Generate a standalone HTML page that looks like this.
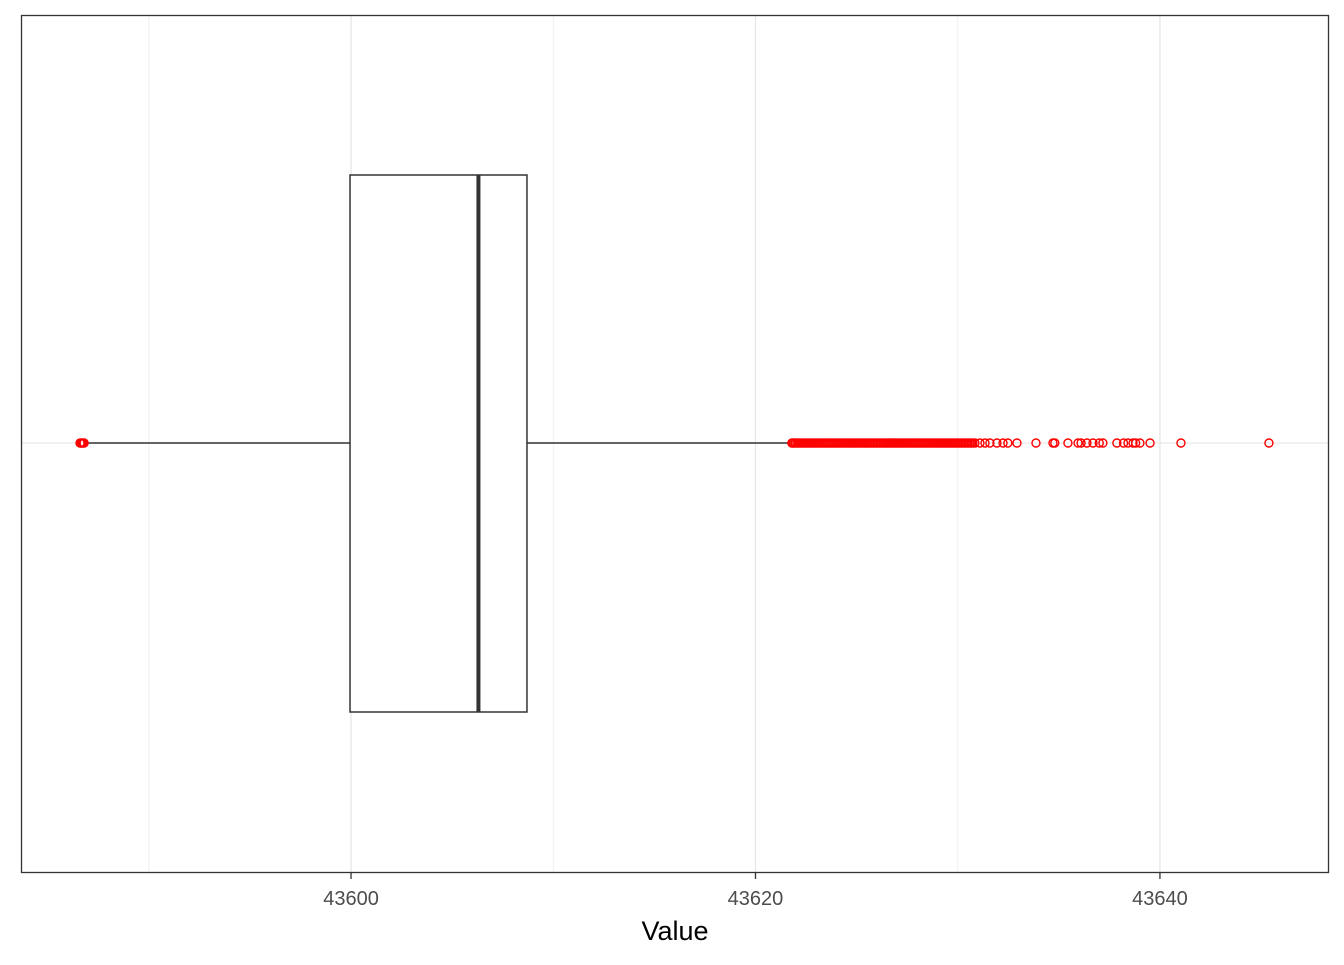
<!DOCTYPE html>
<html><head><meta charset="utf-8"><style>
body{margin:0;background:#fff;}
svg text{font-family:"Liberation Sans",Arial,sans-serif;}
</style></head><body>
<svg id="chart" width="1344" height="960" xmlns="http://www.w3.org/2000/svg">
<rect width="1344" height="960" fill="#fff"/>
<g id="grid"></g>
<g id="marks"></g>
<rect x="21.5" y="15.5" width="1307" height="857" fill="none" stroke="#333" stroke-width="1.3"/>
<g id="axis"></g>
<text x="675" y="940" font-size="27" text-anchor="middle" fill="#000">Value</text>
</svg>
<script>
const majorTicks=[43600,43620,43640];
const minorTicks=[43590,43610,43630];
const stats={min:43586.8,q1:43599.95,median:43606.3,q3:43608.7,max:43621.7};
const lowOutliers=[43586.6,43586.65,43586.7,43586.75,43586.8];
const highOutliers=[43621.8,43621.9,43622.05,43622.2,43622.35,43622.5,43622.65,43622.8,43622.95,43623.1,43623.25,43623.4,43623.55,43623.7,43623.85,43624.0,43624.15,43624.3,43624.45,43624.6,43624.75,43624.9,43625.05,43625.2,43625.35,43625.5,43625.65,43625.8,43625.95,43626.1,43626.25,43626.4,43626.55,43626.7,43626.85,43627.0,43627.15,43627.3,43627.45,43627.6,43627.75,43627.9,43628.05,43628.2,43628.35,43628.5,43628.65,43628.8,43628.95,43629.1,43629.25,43629.4,43629.55,43629.7,43629.85,43630.0,43630.15,43630.3,43630.45,43630.6,43630.75,43630.85,
43621.85,43621.97,43622.12,43622.27,43622.42,43622.57,43622.72,43622.87,43623.02,43623.17,43623.32,43623.47,43623.62,43623.77,43623.92,43624.07,43624.22,43624.37,43624.52,43624.67,43624.82,43624.97,43625.12,43625.27,43625.42,43625.57,43625.72,43625.87,43626.02,43626.17,43626.32,43626.47,43626.62,43626.77,43626.92,43627.07,43627.22,43627.37,43627.52,43627.67,43627.82,43627.97,43628.12,43628.27,43628.42,43628.57,43628.72,43628.87,43629.02,43629.17,43629.32,43629.47,43629.62,43629.77,43629.92,43630.07,43630.22,43630.37,43630.52,43630.67,
43631.10,43631.35,43631.59,43631.94,43632.24,43632.48,43632.93,43633.87,43634.71,43634.8,43635.45,43635.95,43636.1,43636.39,43636.69,43637.0,43637.18,43637.87,43638.2,43638.42,43638.67,43638.8,43639.01,43639.51,43641.04,43645.39];
const X0=43583.68,X1=43648.36,PL=21,PR=1329;
const xs=v=>PL+(v-X0)/(X1-X0)*(PR-PL);
const cy=443,boxTop=175,boxBot=712;
const NS='http://www.w3.org/2000/svg';
function mk(tag,attrs,parent){const e=document.createElementNS(NS,tag);for(const k in attrs)e.setAttribute(k,attrs[k]);parent.appendChild(e);return e;}
const grid=document.getElementById('grid'),marks=document.getElementById('marks'),axis=document.getElementById('axis');
minorTicks.forEach(t=>{const l=mk('line',{x1:xs(t),x2:xs(t),y1:15,y2:873,stroke:'#f0f0f0','stroke-width':1},grid);

});
majorTicks.forEach(t=>{const l=mk('line',{x1:xs(t),x2:xs(t),y1:15,y2:873,stroke:'#e6e6e6','stroke-width':1.3},grid);


const tk=mk('line',{x1:xs(t),x2:xs(t),y1:873,y2:879,stroke:'#333','stroke-width':1.3},axis);


const tx=mk('text',{x:xs(t),y:905,'font-size':20,'text-anchor':'middle',fill:'#4d4d4d'},axis);tx.textContent=t;

});
const hg=mk('line',{x1:21,x2:1329,y1:cy,y2:cy,stroke:'#e6e6e6','stroke-width':1.3},grid);


const w1=mk('line',{x1:xs(stats.min),x2:xs(stats.q1),y1:cy,y2:cy,stroke:'#333','stroke-width':1.5},marks);


const w2=mk('line',{x1:xs(stats.q3),x2:xs(stats.max),y1:cy,y2:cy,stroke:'#333','stroke-width':1.5},marks);


const bx=mk('rect',{x:xs(stats.q1),y:boxTop,width:xs(stats.q3)-xs(stats.q1),height:boxBot-boxTop,fill:'#fff',stroke:'#333','stroke-width':1.5},marks);


const md=mk('line',{x1:xs(stats.median),x2:xs(stats.median),y1:boxTop,y2:boxBot,stroke:'#333','stroke-width':4},marks);


lowOutliers.concat(highOutliers).forEach(v=>{const c=mk('circle',{cx:xs(v),cy:cy,r:4,fill:'none',stroke:'#ff0000','stroke-width':1.4},marks);

});
</script>
</body></html>
